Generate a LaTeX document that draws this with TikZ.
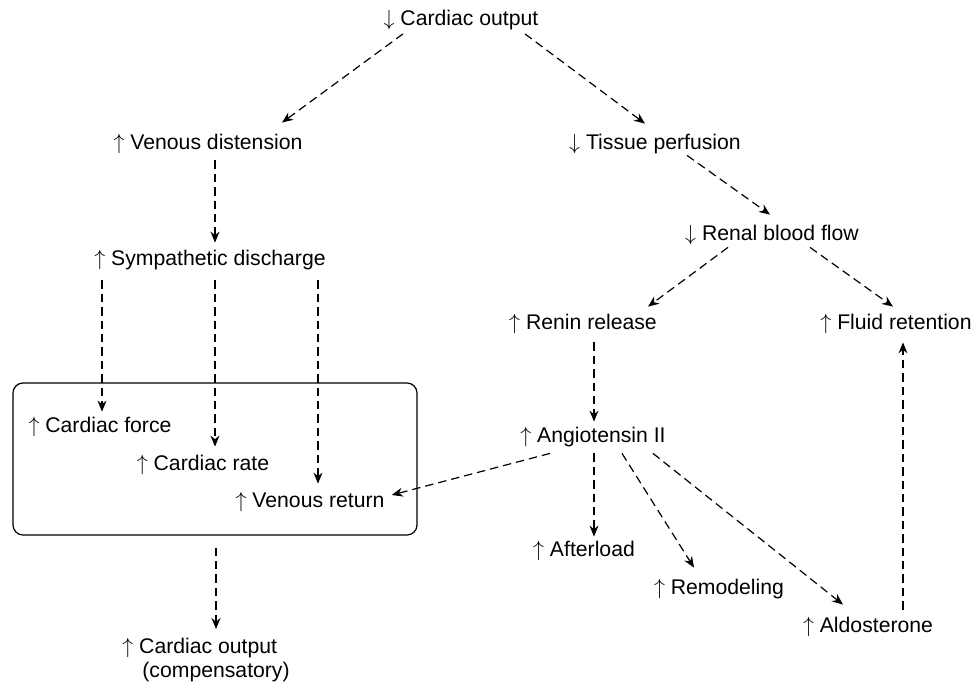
\documentclass[tikz,border=0pt]{standalone}
\usepackage{fontspec}
\setmainfont{Liberation Sans}
\usetikzlibrary{arrows.meta,calc}

\begin{document}
\begin{tikzpicture}[
    item/.style={inner sep=1.5pt, text height=8pt, text depth=2.5pt, font=\fontsize{10.6}{12.7}\selectfont},
    note/.style={inner sep=0pt, align=left, font=\fontsize{10.6}{12}\selectfont},
    flow/.style={line width=0.6pt, dash pattern=on 4.2pt off 2.5pt, -{Stealth[length=5.5pt, width=4.5pt]}},
    panel/.style={draw, line width=0.6pt, rounded corners=5pt, minimum width=202pt, minimum height=76pt, inner sep=0pt},
    x=0.5pt, y=-0.5pt]

    \useasboundingbox (0,0) rectangle (976,686);

    % ----- compensation box (drawn first, text sits on top)
    \node[panel] (box) at (215,459) {};

    % ----- the chain: one unit is one pixel of the figure
    \node[item] (co)  at (461,20)  {$\downarrow$ Cardiac output};
    \node[item] (vd)  at (208,144) {$\uparrow$ Venous distension};
    \node[item] (tp)  at (655,144) {$\downarrow$ Tissue perfusion};
    \node[item] (rbf) at (772,235) {$\downarrow$ Renal blood flow};
    \node[item] (sd)  at (210,260) {$\uparrow$ Sympathetic discharge};
    \node[item] (rr)  at (583,324) {$\uparrow$ Renin release};
    \node[item] (fr)  at (896,324) {$\uparrow$ Fluid retention};
    \node[item] (cf)  at (100,427) {$\uparrow$ Cardiac force};
    \node[item] (cr)  at (203,465) {$\uparrow$ Cardiac rate};
    \node[item] (vr)  at (310,502) {$\uparrow$ Venous return};
    \node[item] (ang) at (593,437) {$\uparrow$ Angiotensin II};
    \node[item] (aft) at (584,551) {$\uparrow$ Afterload};
    \node[item] (rem) at (719,589) {$\uparrow$ Remodeling};
    \node[item] (ald) at (868,627) {$\uparrow$ Aldosterone};
    \node[note, anchor=north west] (coc) at (122,638) {$\uparrow$ Cardiac output\\\hspace*{10pt}(compensatory)};

    % ----- dashed links
    \draw[flow] ($(co.south)+(-58,0)$) -- ($(vd.north)+(74,-7.5)$);
    \draw[flow] ($(co.south)+(64,0)$) -- ($(tp.north)+(-10,-6.5)$);
    \draw[flow] ($(vd.south)+(7,2.5)$) -- ($(sd.north)+(5,-3.5)$);
    \draw[flow] ($(tp.south)+(32,-2.5)$) -- ($(rbf.north)+(-2,-6.5)$);
    \draw[flow] ($(rbf.south)+(-44,-1.5)$) -- ($(rr.north)+(65,-3.5)$);
    \draw[flow] ($(rbf.south)+(38,-1.5)$) -- ($(fr.north)+(-3,-3.5)$);

    \draw[flow] ($(sd.south)+(-108,6.5)$) -- ($(cf.north)+(2,-1.5)$);
    \draw[flow] ($(sd.south)+(5,6.5)$) -- ($(cr.north)+(12,-4.5)$);
    \draw[flow] ($(sd.south)+(108,6.5)$) -- ($(vr.north)+(8,-4.5)$);

    \draw[flow] ($(rr.south)+(11,4.5)$) -- ($(ang.north)+(1,-1.5)$);
    \draw[flow] ($(ang.south)+(-43,2.5)$) -- ($(vr.east)+(4,-7)$);
    \draw[flow] ($(ang.south)+(1,2.5)$) -- ($(aft.north)+(10,-0.5)$);
    \draw[flow] ($(ang.south)+(29,2.5)$) -- ($(rem.north)+(-25,-7.5)$);
    \draw[flow] ($(ang.south)+(60,2.5)$) -- ($(ald.north)+(-25,-8.5)$);
    \draw[flow] ($(ald.north)+(35,-3.5)$) -- ($(fr.south)+(7,4.5)$);

    \draw[flow, shorten <=6pt, shorten >=4.5pt] ([xshift=0.5pt]box.south) -- ([xshift=0.5pt]box.south |- coc.north);
\end{tikzpicture}
\end{document}
